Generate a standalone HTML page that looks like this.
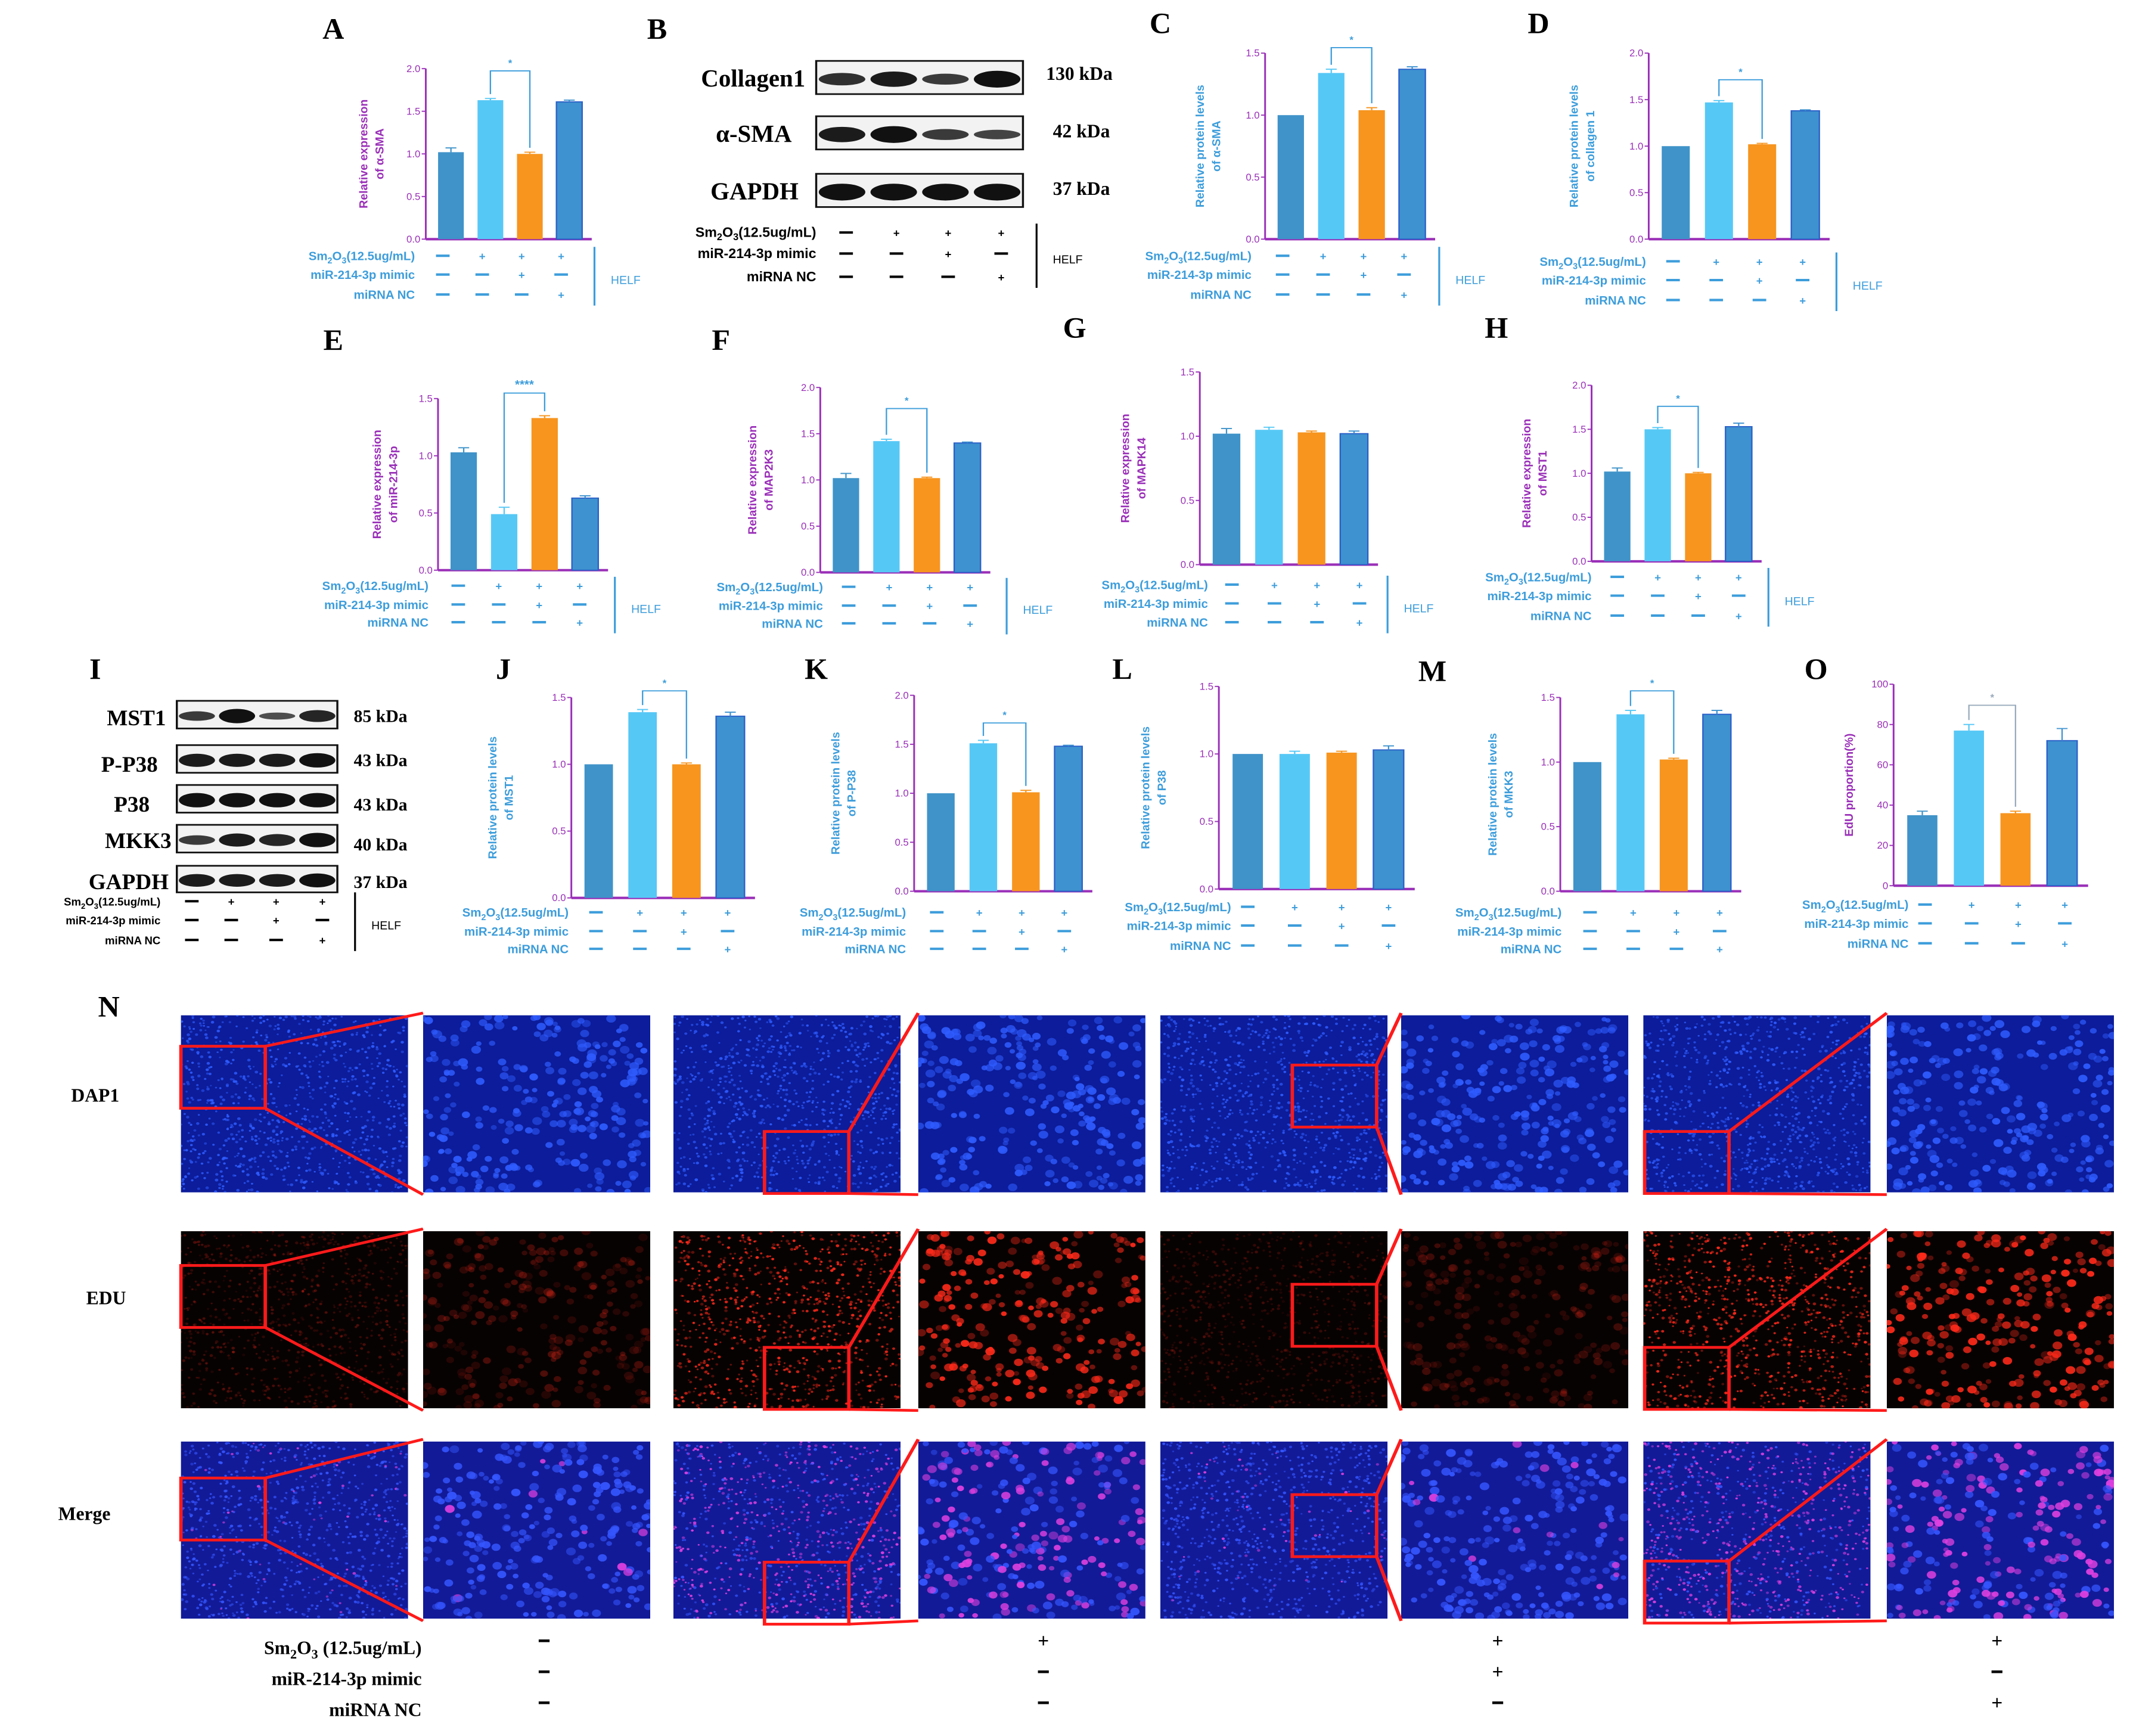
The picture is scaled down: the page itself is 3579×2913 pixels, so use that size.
<!DOCTYPE html>
<html><head><meta charset="utf-8"><title>Figure</title>
<style>html,body{margin:0;padding:0;background:#fff}svg{display:block}</style></head>
<body>
<svg id="fig" xmlns="http://www.w3.org/2000/svg" width="3579" height="2913" viewBox="0 0 1568 1568" preserveAspectRatio="none">
<rect x="0" y="0" width="1568" height="1568" fill="#fff"/>
<defs id="defs"></defs>
</svg>
<script>
// ---- chart data ----
const groups = ['control','sm2o3','sm2o3-mimic','sm2o3-nc'];
const valsA = [1.02,1.63,1.0,1.61];   const errA=[0.05,0.02,0.02,0.02];
const valsC = [1.0,1.34,1.04,1.37];   const errC=[0,0.03,0.02,0.02];
const valsD = [1.0,1.47,1.02,1.38];   const errD=[0,0.02,0.01,0.01];
const valsE = [1.03,0.49,1.33,0.63];  const errE=[0.04,0.06,0.02,0.02];
const valsF = [1.02,1.42,1.02,1.40];  const errF=[0.05,0.02,0.01,0.01];
const valsG = [1.02,1.05,1.03,1.02];  const errG=[0.04,0.02,0.01,0.02];
const valsH = [1.02,1.50,1.00,1.53];  const errH=[0.04,0.02,0.01,0.04];
const valsJ = [1.0,1.39,1.0,1.36];    const errJ=[0,0.02,0.01,0.03];
const valsK = [1.0,1.51,1.01,1.48];   const errK=[0,0.03,0.02,0.01];
const valsL = [1.0,1.0,1.01,1.03];    const errL=[0,0.02,0.01,0.03];
const valsM = [1.0,1.37,1.02,1.37];   const errM=[0,0.03,0.01,0.03];
const valsO = [35,77,36,72];          const errO=[2,3,1,6];
const ticks15 = [0,0.5,1.0,1.5];
const ticks20 = [0,0.5,1.0,1.5,2.0];
const ticks100 = [0,20,40,60,80,100];
const condSm = ['-','+','+','+'];
const condMimic = ['-','-','+','-'];
const condNC = ['-','-','-','+'];

const NS='http://www.w3.org/2000/svg';
const svg=document.getElementById('fig');
const defs=document.getElementById('defs');
const SX=0.815;
function el(tag,attrs,parent){const e=document.createElementNS(NS,tag);for(const k in attrs)e.setAttribute(k,attrs[k]);(parent||svg).appendChild(e);return e;}
function txt(x,y,s,o){o=o||{};const e=el('text',{transform:`translate(${x},${y}) scale(${SX},1)`+(o.rot?' rotate(-90)':''),'font-family':o.serif?'"Liberation Serif",serif':'"Liberation Sans",sans-serif','font-size':o.size||10,'font-weight':o.bold===false?'normal':'bold',fill:o.fill||'#000','text-anchor':o.anchor||'start'},o.parent);e.innerHTML=s;return e;}
const COLORS=['#3f93c9','#56c8f6','#f7951f','#3e92cf'];
const PURPLE='#9a2fb8', LB='#3d9ddb';

function panelLetter(x,y,L){const t=txt(x,y,L,{serif:true,size:27,anchor:'middle'});}

function condTable(g,xs,labelX,ys,color,lineX,helfX,opts){
  opts=opts||{};
  const labels=['Sm<tspan font-size="70%" dy="3">2</tspan><tspan dy="-3">O</tspan><tspan font-size="70%" dy="3">3</tspan><tspan dy="-3">(12.5ug/mL)</tspan>','miR-214-3p mimic','miRNA NC'];
  const rows=[condSm,condMimic,condNC];
  rows.forEach((r,ri)=>{
    const t=txt(labelX,ys[ri],labels[ri],{size:opts.size||11,fill:color,anchor:'end',parent:g});
    
    
    r.forEach((s,i)=>{
      if(s==='-'){const l=el('line',{x1:xs[i]-5,x2:xs[i]+5,y1:ys[ri]-4,y2:ys[ri]-4,stroke:color,'stroke-width':2.2},g);
        }
      else{const t2=txt(xs[i],ys[ri],'+',{size:10,fill:color,anchor:'middle',parent:g});
        }
    });
  });
  if(lineX>0){el('line',{x1:lineX,x2:lineX,y1:ys[0]-12,y2:ys[2]+6,stroke:color,'stroke-width':1.4},g);
    const h=txt(helfX,(ys[0]+ys[2])/2+4,'HELF',{size:10.5,fill:color,bold:false,parent:g});
    }
}

function chart(c){
  const g=el('g',{});
  
  
  const y=v=>c.yb-(v/c.max)*(c.yb-c.yt);
  const bw=(c.xe-c.ax)/4;
  const cx=i=>c.ax+4+(i+0.5)*(bw-1.5);
  el('line',{x1:c.ax,x2:c.ax,y1:c.yt,y2:c.yb,stroke:PURPLE,'stroke-width':1.3},g);
  el('line',{x1:c.ax,x2:c.xe,y1:c.yb,y2:c.yb,stroke:PURPLE,'stroke-width':2.2},g);
  c.ticks.forEach(tv=>{
    el('line',{x1:c.ax-3,x2:c.ax,y1:y(tv),y2:y(tv),stroke:PURPLE,'stroke-width':1},g);
    const t=txt(c.ax-4,y(tv)+3,c.max>10?String(tv):tv.toFixed(1),{size:9,fill:PURPLE,bold:false,anchor:'end',parent:g});
    
  });
  c.vals.forEach((v,i)=>{
    const w=bw*0.62;
    const r=el('rect',{x:cx(i)-w/2,y:y(v),width:w,height:c.yb-y(v),fill:COLORS[i],stroke:i==3?'#2a5fc8':'none','stroke-width':1},g);
    
    
    const e=c.err[i];
    if(e>0){el('line',{x1:cx(i),x2:cx(i),y1:y(v),y2:y(v+e),stroke:COLORS[i],'stroke-width':1},g);
      el('line',{x1:cx(i)-4,x2:cx(i)+4,y1:y(v+e),y2:y(v+e),stroke:COLORS[i],'stroke-width':1},g);}
  });
  if(c.sig){
    const by=c.sig;
    const col=c.sigCol||LB;
    el('polyline',{points:`${cx(1)},${y(c.vals[1]+c.err[1])-4} ${cx(1)},${by} ${cx(2)},${by} ${cx(2)},${y(c.vals[2]+c.err[2])-4}`,fill:'none',stroke:col,'stroke-width':1},g);
    const s=txt((cx(1)+cx(2))/2,by-4,c.star||'*',{size:c.star?11:9,fill:col,anchor:'middle',parent:g});
    
  }
  const mid=(c.yt+c.yb)/2;
  c.title.forEach((tl,k)=>{
    const t=txt(c.tx+k*12,mid,tl,{size:10.5,fill:c.tcol,anchor:'middle',rot:true,parent:g});
    
  });
  condTable(g,[0,1,2,3].map(i=>cx(i)+c.cdx),c.clx,c.cys,LB,c.line,c.line+12);
}

const charts=[
 {id:'a',ax:313,yb:216,yt:62,max:2,xe:435,vals:valsA,err:errA,ticks:ticks20,sig:64,title:['Relative expression','of α-SMA'],tx:270,tcol:PURPLE,clx:305,cys:[235,252,270],cdx:-6,line:437},
 {id:'c',ax:930,yb:216,yt:48,max:1.5,xe:1055,vals:valsC,err:errC,ticks:ticks15,sig:43,title:['Relative  protein levels','of α-SMA'],tx:885,tcol:LB,clx:920,cys:[235,252,270],cdx:-6,line:1058},
 {id:'d',ax:1212,yb:216,yt:48,max:2,xe:1345,vals:valsD,err:errD,ticks:ticks20,sig:72,title:['Relative  protein levels','of collagen 1'],tx:1160,tcol:LB,clx:1210,cys:[240,257,275],cdx:-2,line:1350},
 {id:'e',ax:322,yb:515,yt:360,max:1.5,xe:447,vals:valsE,err:errE,ticks:ticks15,sig:355,star:'****',title:['Relative expression','of miR-214-3p'],tx:280,tcol:PURPLE,clx:315,cys:[533,550,566],cdx:-4,line:452},
 {id:'f',ax:603,yb:517,yt:350,max:2,xe:728,vals:valsF,err:errF,ticks:ticks20,sig:369,title:['Relative expression','of MAP2K3'],tx:556,tcol:PURPLE,clx:605,cys:[534,551,567],cdx:2,line:740},
 {id:'g',ax:882,yb:510,yt:336,max:1.5,xe:1013,vals:valsG,err:errG,ticks:ticks15,title:['Relative expression','of MAPK14'],tx:830,tcol:PURPLE,clx:888,cys:[532,549,566],cdx:4,line:1020},
 {id:'h',ax:1170,yb:507,yt:348,max:2,xe:1295,vals:valsH,err:errH,ticks:ticks20,sig:367,title:['Relative expression','of MST1'],tx:1125,tcol:PURPLE,clx:1170,cys:[525,542,560],cdx:0,line:1300},
 {id:'j',ax:420,yb:811,yt:630,max:1.5,xe:555,vals:valsJ,err:errJ,ticks:ticks15,sig:624,title:['Relative  protein levels','of MST1'],tx:365,tcol:LB,clx:418,cys:[828,845,861],cdx:-2,line:0},
 {id:'k',ax:672,yb:805,yt:628,max:2,xe:803,vals:valsK,err:errK,ticks:ticks20,sig:653,title:['Relative  protein levels','of P-P38'],tx:617,tcol:LB,clx:666,cys:[828,845,861],cdx:-3,line:0},
 {id:'l',ax:896,yb:803,yt:620,max:1.5,xe:1040,vals:valsL,err:errL,ticks:ticks15,title:['Relative  protein levels','of P38'],tx:845,tcol:LB,clx:905,cys:[823,840,858],cdx:0,line:0},
 {id:'m',ax:1147,yb:805,yt:630,max:1.5,xe:1280,vals:valsM,err:errM,ticks:ticks15,sig:624,title:['Relative  protein levels','of MKK3'],tx:1100,tcol:LB,clx:1148,cys:[828,845,861],cdx:2,line:0},
 {id:'o',ax:1392,yb:800,yt:618,max:100,xe:1535,vals:valsO,err:errO,ticks:ticks100,sig:637,sigCol:'#9ab',title:['EdU proportion(%)'],tx:1362,tcol:PURPLE,clx:1403,cys:[821,838,856],cdx:2,line:0}
];
charts.forEach(c=>chart(c));

[['A',245,35],['B',483,35],['C',853,30],['D',1131,30],['E',245,316],['F',530,316],['G',790,305],['H',1100,305],['I',70,613],['J',370,613],['K',600,613],['L',825,613],['M',1053,615],['O',1335,613],['N',80,918]].forEach(a=>panelLetter(a[1],a[2],a[0]));

function blot(x,y,w,h,intens,name){
  const g=el('g',{});
  
  
  el('rect',{x:x,y:y,width:w,height:h,fill:'#f2f2f2',stroke:'#111','stroke-width':1.5},g);
  const lw=w/4;
  intens.forEach((v,i)=>{
    el('ellipse',{cx:x+lw*(i+0.5),cy:y+h*0.55,rx:lw*0.45,ry:h*0.22*v+1,fill:'#111',opacity:0.55+0.45*v},g);
  });
}
blot(600,55,152,30,[0.7,0.9,0.6,1],'blot-collagen1');
blot(600,105,152,30,[0.9,1,0.6,0.5],'blot-alpha-sma');
blot(600,157,152,30,[1,1,1,1],'blot-gapdh');
[['Collagen1',592,78],['α-SMA',582,128],['GAPDH',587,180]].forEach(a=>{const t=txt(a[1],a[2],a[0],{serif:true,size:22,anchor:'end'});});
[['130 kDa',769,72],['42 kDa',774,124],['37 kDa',774,176]].forEach(a=>{const t=txt(a[1],a[2],a[0],{serif:true,size:17});});
(function(){const g=el('g',{});condTable(g,[622,659,697,736],600,[214,233,254],'#000',762,774,{size:12.5});})();

blot(130,633,118,25,[0.6,1,0.4,0.8],'blot-mst1');
blot(130,673,118,25,[0.9,0.9,0.9,1],'blot-p-p38');
blot(130,709,118,25,[1,1,1,1],'blot-p38');
blot(130,745,118,25,[0.6,0.9,0.8,1],'blot-mkk3');
blot(130,782,118,24,[0.9,0.9,0.9,1],'blot-gapdh-2');
[['MST1',122,655],['P-P38',116,697],['P38',110,733],['MKK3',126,766],['GAPDH',124,803]].forEach(a=>{const t=txt(a[1],a[2],a[0],{serif:true,size:20,anchor:'end'});});
[['85 kDa',260,652],['43 kDa',260,692],['43 kDa',260,732],['40 kDa',260,768],['37 kDa',260,802]].forEach(a=>{const t=txt(a[1],a[2],a[0],{serif:true,size:16});});
(function(){const g=el('g',{});condTable(g,[141,170,203,237],118,[818,835,853],'#000',261,273,{size:10});})();

// ---- micrographs (panel N) ----
let seed=7;function rnd(){seed=(seed*16807)%2147483647;return seed/2147483647;}
const colsX=[133,311,495,675,853,1030,1208,1387];
const rowsY=[917,1112,1302];
const rowH=160, colW=167;
let clipId=0;
function micro(x,y,type,bright,big,name){
  const id='c'+(clipId++);
  const cp=el('clipPath',{id:id},defs);
  el('rect',{x:x,y:y,width:colW,height:rowH},cp);
  const g=el('g',{'clip-path':`url(#${id})`});
  
  
  const bg=type==0?'#0c1c9a':type==1?'#070202':'#121a98';
  el('rect',{x:x,y:y,width:colW,height:rowH,fill:bg},g);
  const n=big?260:900, r=big?2.8:1.0;
  for(let i=0;i<n;i++){
    let fill,op;
    if(type==0){fill='#2f5cff';op=0.45+0.5*rnd();}
    else if(type==1){fill='#ff2a1a';op=bright*(0.25+0.7*rnd());}
    else{fill=rnd()<bright?'#e040e0':'#3556ff';op=0.45+0.5*rnd();}
    el('circle',{cx:x+rnd()*colW,cy:y+rnd()*rowH,r:r*(0.7+0.6*rnd()),fill:fill,opacity:op},g);
  }
}
const bright=[0.3,1,0.25,1];
const merB=[0.05,0.5,0.05,0.6];
const sqY=[[945,1143,1335],[1022,1217,1411],[962,1160,1350],[1022,1217,1410]];
const sqX=[133,562,950,1209];
for(let gi=0;gi<4;gi++){
  for(let ri=0;ri<3;ri++){
    const b=ri==1?bright[gi]:merB[gi];
    micro(colsX[gi*2],rowsY[ri],ri,b,false,'micrograph-'+['dapi','edu','merge'][ri]+'-'+(gi+1));
    micro(colsX[gi*2+1],rowsY[ri],ri,b,true,'micrograph-zoom-'+['dapi','edu','merge'][ri]+'-'+(gi+1));
    const sx=sqX[gi], sy=sqY[gi][ri];
    const s=el('rect',{x:sx,y:sy,width:62,height:56,fill:'none',stroke:'#ff1a1a','stroke-width':2.5});
    
    
    const zx=colsX[gi*2+1], zy=rowsY[ri];
    el('line',{x1:sx+62,y1:sy,x2:zx,y2:zy-2,stroke:'#ff1a1a','stroke-width':2.5});
    el('line',{x1:sx+62,y1:sy+56,x2:zx,y2:zy+rowH+2,stroke:'#ff1a1a','stroke-width':2.5});
  }
}
[['DAP1',70,995],['EDU',78,1178],['Merge',62,1373]].forEach(a=>{const t=txt(a[1],a[2],a[0],{serif:true,size:17,anchor:'middle'});});
[['Sm<tspan font-size="70%" dy="4">2</tspan><tspan dy="-4">O</tspan><tspan font-size="70%" dy="4">3</tspan><tspan dy="-4">  (12.5ug/mL)</tspan>',310,1494],['miR-214-3p mimic',310,1522],['miRNA NC',310,1550]].forEach(a=>{const t=txt(a[1],a[2],a[0],{serif:true,size:17,anchor:'end'});});
const nSyms=[['-','-','-'],['+','-','-'],['+','+','-'],['+','-','+']];
const nX=[400,767,1101,1468];
nSyms.forEach((col,ci)=>col.forEach((s,ri)=>{
  const yy=[1488,1516,1544][ri];
  if(s==='-'){const l=el('line',{x1:nX[ci]-4,x2:nX[ci]+4,y1:yy-6,y2:yy-6,stroke:'#000','stroke-width':2.4});
    
    }
  else{const t=txt(nX[ci],yy,'+',{serif:true,size:18,anchor:'middle'});}
}));
</script>
</body></html>
